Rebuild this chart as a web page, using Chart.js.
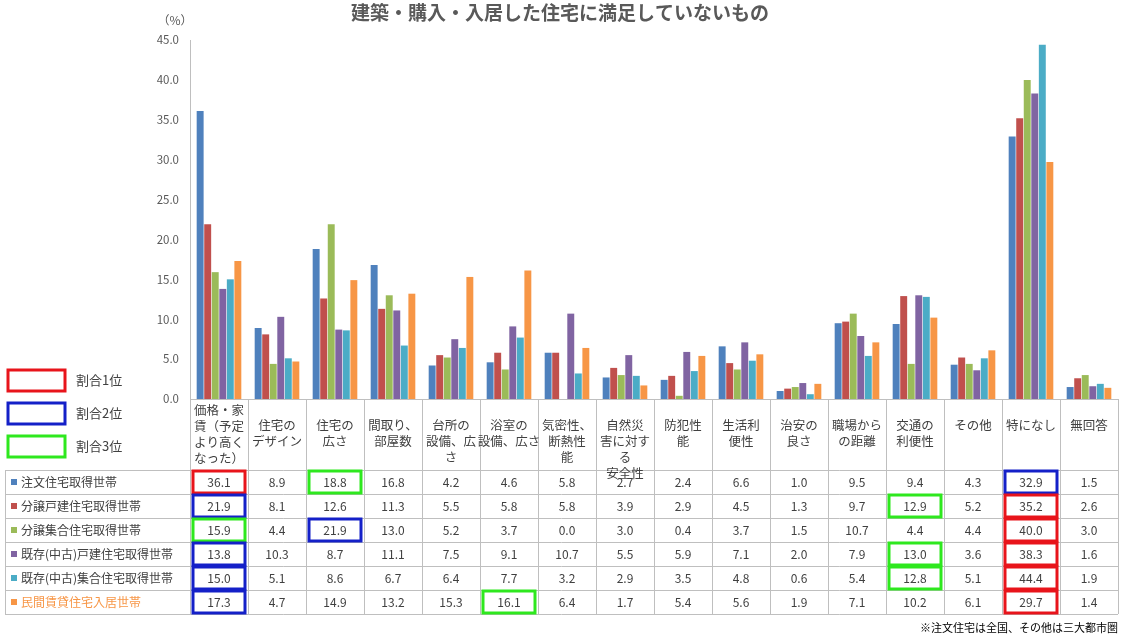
<!DOCTYPE html>
<html><head><meta charset="utf-8">
<script src="https://cdn.jsdelivr.net/npm/chart.js@4/dist/chart.umd.min.js"></script>
<style>html,body{margin:0;padding:0;background:#fff}#w{width:1127px;height:638px}</style>
</head><body><div id="w"><canvas id="c"></canvas></div>
<script>
const categories=[['価格・家','賃（予定','より高く','なった）'],['住宅の','デザイン'],['住宅の','広さ'],['間取り、','部屋数'],['台所の','設備、広','さ'],['浴室の','設備、広さ'],['気密性、','断熱性','能'],['自然災','害に対す','る','安全性'],['防犯性','能'],['生活利','便性'],['治安の','良さ'],['職場から','の距離'],['交通の','利便性'],['その他'],['特になし'],['無回答']];
const seriesNames=['注文住宅取得世帯','分譲戸建住宅取得世帯','分譲集合住宅取得世帯','既存(中古)戸建住宅取得世帯','既存(中古)集合住宅取得世帯','民間賃貸住宅入居世帯'];
const s1=[36.1,8.9,18.8,16.8,4.2,4.6,5.8,2.7,2.4,6.6,1.0,9.5,9.4,4.3,32.9,1.5];
const s2=[21.9,8.1,12.6,11.3,5.5,5.8,5.8,3.9,2.9,4.5,1.3,9.7,12.9,5.2,35.2,2.6];
const s3=[15.9,4.4,21.9,13.0,5.2,3.7,0.0,3.0,0.4,3.7,1.5,10.7,4.4,4.4,40.0,3.0];
const s4=[13.8,10.3,8.7,11.1,7.5,9.1,10.7,5.5,5.9,7.1,2.0,7.9,13.0,3.6,38.3,1.6];
const s5=[15.0,5.1,8.6,6.7,6.4,7.7,3.2,2.9,3.5,4.8,0.6,5.4,12.8,5.1,44.4,1.9];
const s6=[17.3,4.7,14.9,13.2,15.3,16.1,6.4,1.7,5.4,5.6,1.9,7.1,10.2,6.1,29.7,1.4];
const seriesValues=[s1,s2,s3,s4,s5,s6];
const colors=['#4F81BD','#C0504D','#9BBB59','#8064A2','#4BACC6','#F79646'];
const highlights=[[0,0,1],[0,2,3],[0,14,2],[1,0,2],[1,12,3],[1,14,1],[2,0,3],[2,2,2],[2,14,1],[3,0,2],[3,12,3],[3,14,1],[4,0,2],[4,12,3],[4,14,1],[5,0,2],[5,5,3],[5,14,1]];
const rankColors={1:'#E8141B',2:'#1420C8',3:'#2EE81E'};
const rankLabels=['割合1位','割合2位','割合3位'];
const F='"Noto Sans CJK JP","Noto Sans",sans-serif';

const tablePlugin={id:'tbl',afterDraw(ch){
  const c=ch.ctx,a=ch.chartArea;
  const n=categories.length,w=(a.right-a.left)/n;
  const top=a.bottom,hdrH=71,rowH=24,left=5;
  c.save();
  c.fillStyle='#595959';c.font='bold 19px '+F;c.textAlign='center';c.textBaseline='middle';
  c.fillText('建築・購入・入居した住宅に満足していないもの',560,13);
  c.font='12px '+F;c.fillText('（%）',175,20);
  c.strokeStyle='#BFBFBF';c.lineWidth=1;
  const bottom=top+hdrH+rowH*6;
  for(let i=0;i<=n;i++){const xx=Math.round(a.left+i*w)+0.5;c.beginPath();c.moveTo(xx,top);c.lineTo(xx,bottom);c.stroke();}
  c.beginPath();c.moveTo(left+0.5,top+hdrH);c.lineTo(left+0.5,bottom);c.stroke();
  for(let r=0;r<=6;r++){const yy=Math.round(top+hdrH+r*rowH)+0.5;c.beginPath();c.moveTo(left,yy);c.lineTo(a.right,yy);c.stroke();}
  c.fillStyle='#404040';c.font='12.5px '+F;c.textAlign='center';c.textBaseline='top';
  categories.forEach((lab,i)=>{
    const cx=a.left+(i+0.5)*w;
    const y0=top+(i==0?5:20);
    lab.forEach((l,k)=>{c.fillText(l,cx,y0+k*16);});
  });
  seriesValues.forEach((vals,r)=>{
    const cy=top+hdrH+r*rowH+rowH/2;
    c.fillStyle=colors[r];c.fillRect(left+6,cy-3,6,6);
    c.fillStyle=r==5?'#F79646':'#404040';c.textAlign='left';c.textBaseline='middle';c.font='12px '+F;
    c.fillText(seriesNames[r],left+16,cy);
    c.fillStyle='#404040';c.textAlign='center';
    vals.forEach((v,i)=>{c.fillText(v.toFixed(1),a.left+(i+0.5)*w,cy);});
  });
  c.lineWidth=3;
  highlights.forEach(([r,i,k])=>{c.strokeStyle=rankColors[k];const y0=top+hdrH+r*rowH;c.strokeRect(a.left+i*w+3,y0+1,w-6,rowH-2);});
  rankLabels.forEach((l,k)=>{const y=380+k*33;c.strokeStyle=rankColors[k+1];c.strokeRect(8,y-10,57,21);
    c.fillStyle='#404040';c.textAlign='left';c.font='13px '+F;c.fillText(l,76,y);});
  c.fillStyle='#000';c.textAlign='right';c.font='11px '+F;c.fillText('※注文住宅は全国、その他は三大都市圏',1118,628);
  c.restore();
}};

new Chart(document.getElementById('c'),{
 type:'bar',
 data:{labels:categories.map(l=>l.join('')),datasets:seriesValues.map((v,i)=>({label:seriesNames[i],data:v,backgroundColor:colors[i]}))},
 options:{responsive:true,maintainAspectRatio:false,animation:false,
  layout:{padding:{left:140,right:9,top:40,bottom:231}},
  plugins:{legend:{display:false},tooltip:{enabled:false}},
  datasets:{bar:{categoryPercentage:0.78,barPercentage:0.92}},
  scales:{
   x:{ticks:{display:false},grid:{display:false},border:{color:'#BFBFBF'}},
   y:{min:0,max:45,afterFit:s=>{s.width=50;},ticks:{stepSize:5,callback:v=>v.toFixed(1),color:'#595959',font:{size:11.5,family:F}},grid:{display:false},border:{color:'#BFBFBF'}}
  }
 },
 plugins:[tablePlugin]
});
</script></body></html>
